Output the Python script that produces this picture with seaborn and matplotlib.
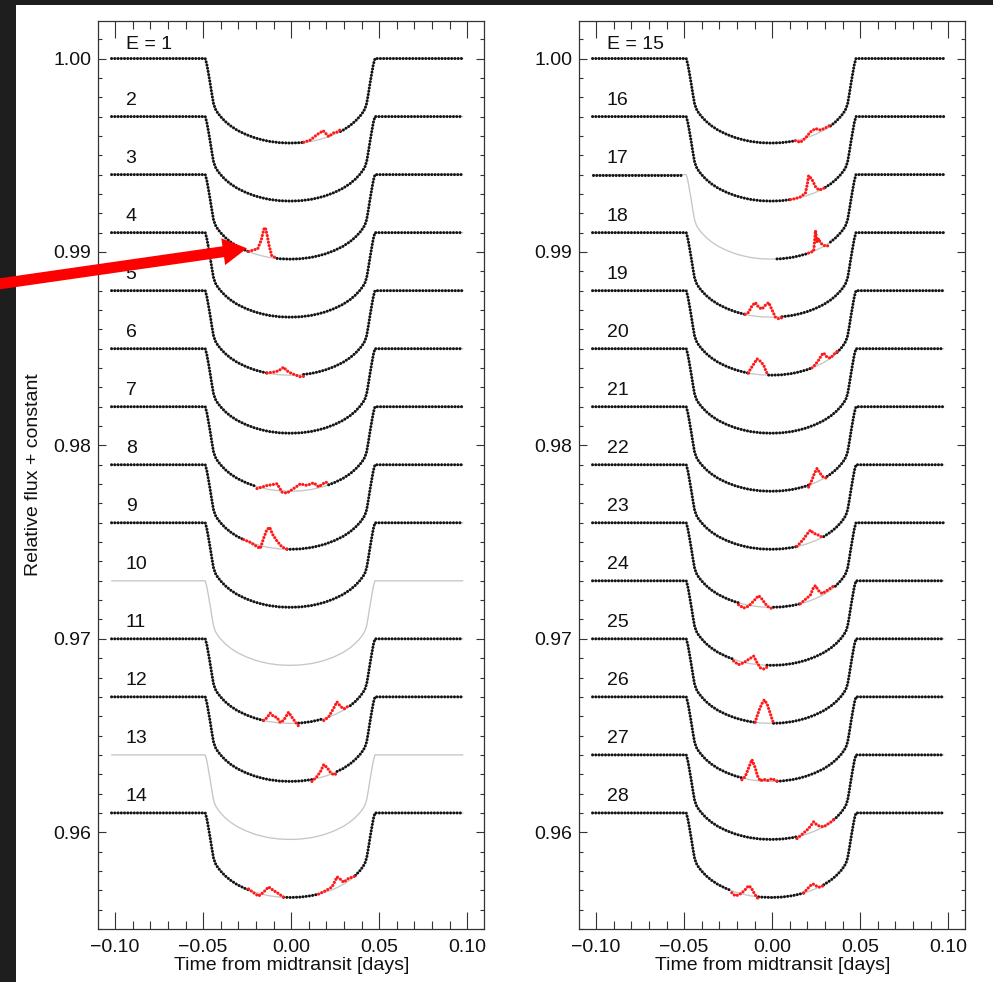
import numpy as np
import pandas as pd
import matplotlib
matplotlib.use("Agg")
import matplotlib.pyplot as plt
from matplotlib.ticker import MultipleLocator, FuncFormatter
from matplotlib.patches import Rectangle, FancyArrow
import seaborn as sns

# ---------------- data ----------------
# transit profile: time from centre (days) and depth below baseline (relative flux)
transit_center = -0.0006
half_dt = [0.0, 0.006, 0.012, 0.016, 0.020, 0.025, 0.030, 0.034, 0.037, 0.0397,
           0.0415, 0.0425, 0.0435, 0.0444, 0.0454, 0.0464, 0.0473, 0.0482]
half_depth = [0.00437, 0.00435, 0.00428, 0.00420, 0.00410, 0.00393, 0.00371, 0.00347,
              0.00324, 0.00298, 0.00276, 0.00260, 0.00232, 0.00185, 0.00128, 0.00075,
              0.00030, 0.0]
t_first, t_last = -0.102, 0.0975

left_numbers = [1, 2, 3, 4, 5, 6, 7, 8, 9, 10, 11, 12, 13, 14]
right_numbers = [15, 16, 17, 18, 19, 20, 21, 22, 23, 24, 25, 26, 27, 28]
baselines = [1.000, 0.997, 0.994, 0.991, 0.988, 0.985, 0.982,
             0.979, 0.976, 0.973, 0.970, 0.967, 0.964, 0.961]

# observed time spans (default: whole window); [] = no data, model only
observed = {10: [], 13: [], 17: [(-0.102, -0.0505), (0.0028, 0.0975)]}

# spot-crossing anomalies (red): times and flux excess above the model
red_spots = {
    1: [([0.0071, 0.0109, 0.0147, 0.0182, 0.0198, 0.0213, 0.0242, 0.0262, 0.028],
         [0.0, 0.00007, 0.00028, 0.0004, 0.0002, 0.0, 0.0001, 0.00005, 0.0001])],
    3: [([-0.0242, -0.021, -0.019, -0.017, -0.0155, -0.0147, -0.0138, -0.0125, -0.011, -0.008],
         [0.0, 0.0002, 0.0003, 0.0008, 0.0014, 0.0015, 0.0012, 0.0006, 0.0001, 0.0])],
    5: [([-0.0137, -0.010, -0.0071, -0.0043, -0.0024, 0.0, 0.0024, 0.0052, 0.0071],
         [0.0, 0.0001, 0.0002, 0.0004, 0.00022, 0.0001, 0.0, -0.0001, -0.0001])],
    7: [([-0.0194, -0.0138, -0.008, -0.0052, -0.0024, 0.0014, 0.0052, 0.009, 0.0128, 0.0156, 0.0194, 0.0213],
         [-0.0001, 0.00018, 0.00035, -0.00006, -0.0001, 0.00013, 0.00036, 0.00024, 0.00032, 0.00005, 0.0002, 0.0001])],
    8: [([-0.027, -0.023, -0.0195, -0.0175, -0.0157, -0.0138, -0.0122, -0.0105, -0.0081, -0.0052, -0.0024],
         [0.0, 0.0, -0.0001, -0.00015, 0.0004, 0.0009, 0.00105, 0.0007, 0.0004, 0.0001, 0.0])],
    11: [([-0.0157, -0.0138, -0.0119, -0.010, -0.0081, -0.0062, -0.0043, -0.0015, 0.0004, 0.0023, 0.0042],
          [0.0, 0.00017, 0.00045, 0.0003, 0.00027, 0.00003, 0.00014, 0.00057, 0.00032, 0.00007, -0.00015]),
         ([0.0185, 0.0213, 0.024, 0.026, 0.028, 0.030, 0.032, 0.0336],
          [-0.0001, 0.0, 0.00033, 0.0006, 0.00028, 0.00005, 0.00005, 0.0])],
    12: [([0.0118, 0.0147, 0.0166, 0.0185, 0.0204, 0.0223, 0.0242, 0.0261],
          [-0.0001, 0.0001, 0.0003, 0.00062, 0.00041, 0.0001, -0.0001, -0.0001])],
    14: [([-0.0242, -0.0214, -0.0185, -0.0157, -0.0128, -0.010, -0.0071, -0.0043],
          [0.00005, -0.00005, -0.00015, 0.00012, 0.00045, 0.0003, 0.00017, 0.0]),
         ([0.0156, 0.0194, 0.0232, 0.0261, 0.028, 0.0298, 0.0327, 0.0355, 0.0365],
          [0.0, 0.00007, 0.00014, 0.00055, 0.00034, 0.0001, 0.00014, 0.0, 0.0])],
    15: [([0.0132, 0.016, 0.0189, 0.0217, 0.0246, 0.0274, 0.0302, 0.0331],
          [0.0, -0.00015, 0.0, 0.00022, 0.0003, 0.0001, 0.00007, 0.00005])],
    16: [([0.0104, 0.0132, 0.016, 0.0189, 0.0200, 0.0207, 0.0226, 0.0246, 0.0264, 0.0283, 0.0302],
          [0.0, 0.0, 0.00003, 0.00015, 0.0006, 0.001, 0.00075, 0.0003, 0.00005, 0.0, 0.0])],
    17: [([0.0207, 0.0236, 0.0246, 0.0255, 0.0264, 0.0274, 0.0293, 0.0312, 0.0331],
          [0.0, 0.0, 0.00103, 0.0004, 0.00053, 0.00027, 0.00005, -0.0001, -0.0001])],
    18: [([-0.0153, -0.0134, -0.0115, -0.0096, -0.0077, -0.0058, -0.0039, -0.002, 0.0, 0.0018, 0.0037, 0.0056],
          [0.0, 0.00014, 0.0005, 0.0007, 0.00048, 0.0004, 0.0006, 0.00075, 0.00036, 0.0, -0.0001, -0.00005])],
    19: [([-0.0134, -0.0125, -0.0105, -0.0086, -0.0067, -0.0048, -0.0033, -0.002],
          [0.0, 0.0002, 0.0005, 0.0008, 0.0007, 0.0005, 0.00015, 0.0]),
         ([0.0226, 0.0245, 0.0264, 0.0283, 0.0292, 0.0312, 0.0331, 0.035, 0.0369],
          [0.0, 0.0001, 0.00025, 0.00045, 0.0005, 0.00016, 0.0, 0.00005, 0.00005])],
    21: [([0.0207, 0.0226, 0.024, 0.0255, 0.027, 0.0289, 0.0312],
          [-0.0001, 0.0002, 0.0005, 0.00069, 0.0004, 0.0001, -0.0001])],
    22: [([0.0141, 0.0179, 0.0198, 0.0217, 0.0236, 0.0255, 0.0274, 0.0293],
          [0.0, 0.0003, 0.0005, 0.00064, 0.00041, 0.00028, 0.0001, -0.00007])],
    23: [([-0.0191, -0.0162, -0.0134, -0.0105, -0.0077, -0.0058, -0.0039, -0.002, 0.0008],
          [-0.0001, -0.0002, -0.00005, 0.00026, 0.00057, 0.00041, 0.00017, 0.0, -0.0001]),
         ([0.016, 0.0217, 0.0236, 0.0246, 0.0264, 0.0283, 0.0302, 0.0321, 0.034, 0.0359],
          [0.0, 0.00028, 0.00064, 0.00067, 0.00033, 0.0001, 0.0001, 0.0001, 0.0001, 0.00007])],
    24: [([-0.0219, -0.0191, -0.0162, -0.0134, -0.0105, -0.0086, -0.0067, -0.0048, -0.0029],
          [-0.00009, -0.0002, -0.00003, 0.0002, 0.00041, 0.0001, -0.00015, -0.0002, -0.0001])],
    25: [([-0.0096, -0.0087, -0.0072, -0.0058, -0.0045, -0.0029, -0.0014, 0.0, 0.0008],
          [0.0, 0.0003, 0.0007, 0.001, 0.0012, 0.001, 0.0006, 0.0002, 0.0])],
    26: [([-0.0172, -0.0153, -0.0134, -0.0115, -0.0096, -0.0083, -0.0067, -0.0048, -0.0029, 0.0, 0.0028],
          [-0.0001, 0.0001, 0.00058, 0.00105, 0.00065, 0.00024, 0.0, 0.0001, 0.00003, 0.00014, 0.0])],
    27: [([0.0141, 0.016, 0.0179, 0.0207, 0.0236, 0.0255, 0.0274, 0.0293, 0.0312, 0.0331, 0.035],
          [-0.0001, 0.0, 0.0001, 0.00025, 0.0005, 0.00025, 0.0001, 0.0, 0.0, 0.0, 0.0])],
    28: [([-0.0229, -0.021, -0.0191, -0.0172, -0.0153, -0.0134, -0.012, -0.0105, -0.0086, -0.0077],
          [-0.0001, -0.0002, -0.0001, 0.00005, 0.00026, 0.0005, 0.00043, 0.0002, -0.00005, -0.0001]),
         ([0.0179, 0.0198, 0.0217, 0.0232, 0.0246, 0.0264, 0.0283, 0.0293],
          [0.0, 0.00014, 0.00026, 0.0003, 0.00017, 0.0, -0.00005, 0.0])],
}

x_ticks = [-0.10, -0.05, 0.00, 0.05, 0.10]
y_ticks = [0.96, 0.97, 0.98, 0.99, 1.00]
x_title = "Time from midtransit [days]"
y_title = "Relative flux + constant"

# ---------------- helpers ----------------
prof_t = np.concatenate([transit_center - np.array(half_dt[::-1]),
                         transit_center + np.array(half_dt[1:])])
prof_d = np.concatenate([np.array(half_depth[::-1]), np.array(half_depth[1:])])


def model(t, base):
    return base - np.interp(t, prof_t, prof_d)


def path(a, b):
    inner = prof_t[(prof_t > a) & (prof_t < b)]
    return np.concatenate([[a], inner, [b]])


def build_panel(numbers):
    gray, black, red = [], [], []
    seg = 0
    for num, base in zip(numbers, baselines):
        tt = path(t_first, t_last)
        gray.append(pd.DataFrame({"t": tt, "flux": model(tt, base), "seg": seg}))
        seg += 1
        spans = observed.get(num, [(t_first, t_last)])
        spots = red_spots.get(num, [])
        cuts = sorted((min(ts), max(ts)) for ts, _ in spots)
        for a, b in spans:
            start = a
            for c0, c1 in cuts:
                if c1 <= a or c0 >= b:
                    continue
                if c0 > start:
                    tt = path(start, c0)
                    black.append(pd.DataFrame({"t": tt, "flux": model(tt, base), "seg": seg}))
                    seg += 1
                start = max(start, c1)
            if start < b:
                tt = path(start, b)
                black.append(pd.DataFrame({"t": tt, "flux": model(tt, base), "seg": seg}))
                seg += 1
        for ts, ds in spots:
            ts = np.array(ts)
            red.append(pd.DataFrame({"t": ts, "flux": model(ts, base) + np.array(ds), "seg": seg}))
            seg += 1
    cat = lambda L: pd.concat(L, ignore_index=True) if L else pd.DataFrame(columns=["t", "flux", "seg"])
    return cat(gray), cat(black), cat(red)


# ---------------- figure ----------------
sns.set_style("ticks")
plt.rcParams["font.family"] = ["Liberation Sans", "DejaVu Sans"]
plt.rcParams["axes.unicode_minus"] = True

W, H = 993, 982
fig = plt.figure(figsize=(W / 100, H / 100), dpi=100, facecolor="#1e1e1e")
fig.add_artist(Rectangle((16 / W, 0), 1 - 16 / W, 1 - 5 / H, transform=fig.transFigure,
                         facecolor="white", edgecolor="none", zorder=-10))

ax_w = 0.3892
ax_b = 1 - 929 / H
ax_h = (929 - 21) / H
axes = [fig.add_axes([98 / W, ax_b, ax_w, ax_h]), fig.add_axes([579 / W, ax_b, ax_w, ax_h])]

dot_style = dict(linestyle=(0, (0.01, 1.05)), dash_capstyle="round", solid_capstyle="round")

fmt = FuncFormatter(lambda v, p: ("%.2f" % (0.0 if abs(v) < 1e-9 else v)).replace("-", "\u2212"))

for ax, numbers in zip(axes, [left_numbers, right_numbers]):
    gray, black, red = build_panel(numbers)
    sns.lineplot(data=gray, x="t", y="flux", units="seg", estimator=None, sort=False,
                 color="#c6c6c6", linewidth=0.95, ax=ax, legend=False, zorder=2)
    sns.lineplot(data=black, x="t", y="flux", units="seg", estimator=None, sort=False,
                 color="#141414", linewidth=2.2, ax=ax, legend=False, zorder=3, **dot_style)
    if len(red):
        sns.lineplot(data=red, x="t", y="flux", units="seg", estimator=None, sort=False,
                     color="#ff1a1a", linewidth=2.3, ax=ax, legend=False, zorder=4, **dot_style)
    for i, (num, base) in enumerate(zip(numbers, baselines)):
        lab = ("E = %d" % num) if i == 0 else str(num)
        ax.text(-0.094, base + (0.0005 if i == 0 else 0.0006), lab, fontsize=14,
                ha="left", va="baseline", color="#111111")

    ax.set_xlim(-0.1097, 0.1098)
    ax.set_ylim(0.955, 1.00194)
    ax.set_xticks(x_ticks)
    ax.set_yticks(y_ticks)
    ax.xaxis.set_minor_locator(MultipleLocator(0.01))
    ax.yaxis.set_minor_locator(MultipleLocator(0.001))
    ax.xaxis.set_major_formatter(fmt)
    ax.yaxis.set_major_formatter(fmt)
    ax.tick_params(which="both", direction="in", top=True, right=True,
                   color="#333333", width=0.8, labelsize=14, labelcolor="#111111")
    ax.tick_params(axis="x", which="major", length=12.5, pad=7)
    ax.tick_params(axis="x", which="minor", length=6)
    ax.tick_params(axis="y", which="major", length=5.6, pad=5)
    ax.tick_params(axis="y", which="minor", length=2.6)
    for sp in ax.spines.values():
        sp.set_color("#333333")
        sp.set_linewidth(0.9)
    ax.set_xlabel(x_title, fontsize=14, labelpad=1, color="#111111")
    ax.set_ylabel("")
    ax.set_facecolor("white")

axes[0].set_ylabel(y_title, fontsize=14, labelpad=8, color="#111111")

# red annotation arrow (figure pixels -> inches)
x0, y0 = -5, 284.5
x1, y1 = 247, 248.3
fig.add_artist(FancyArrow(x0 / 100, (H - y0) / 100, (x1 - x0) / 100, (y0 - y1) / 100,
                          width=0.11, head_width=0.27, head_length=0.24,
                          length_includes_head=True, color="#ff0000", lw=0,
                          transform=fig.dpi_scale_trans, zorder=20))

fig.savefig("out.png", dpi=100, facecolor=fig.get_facecolor())
